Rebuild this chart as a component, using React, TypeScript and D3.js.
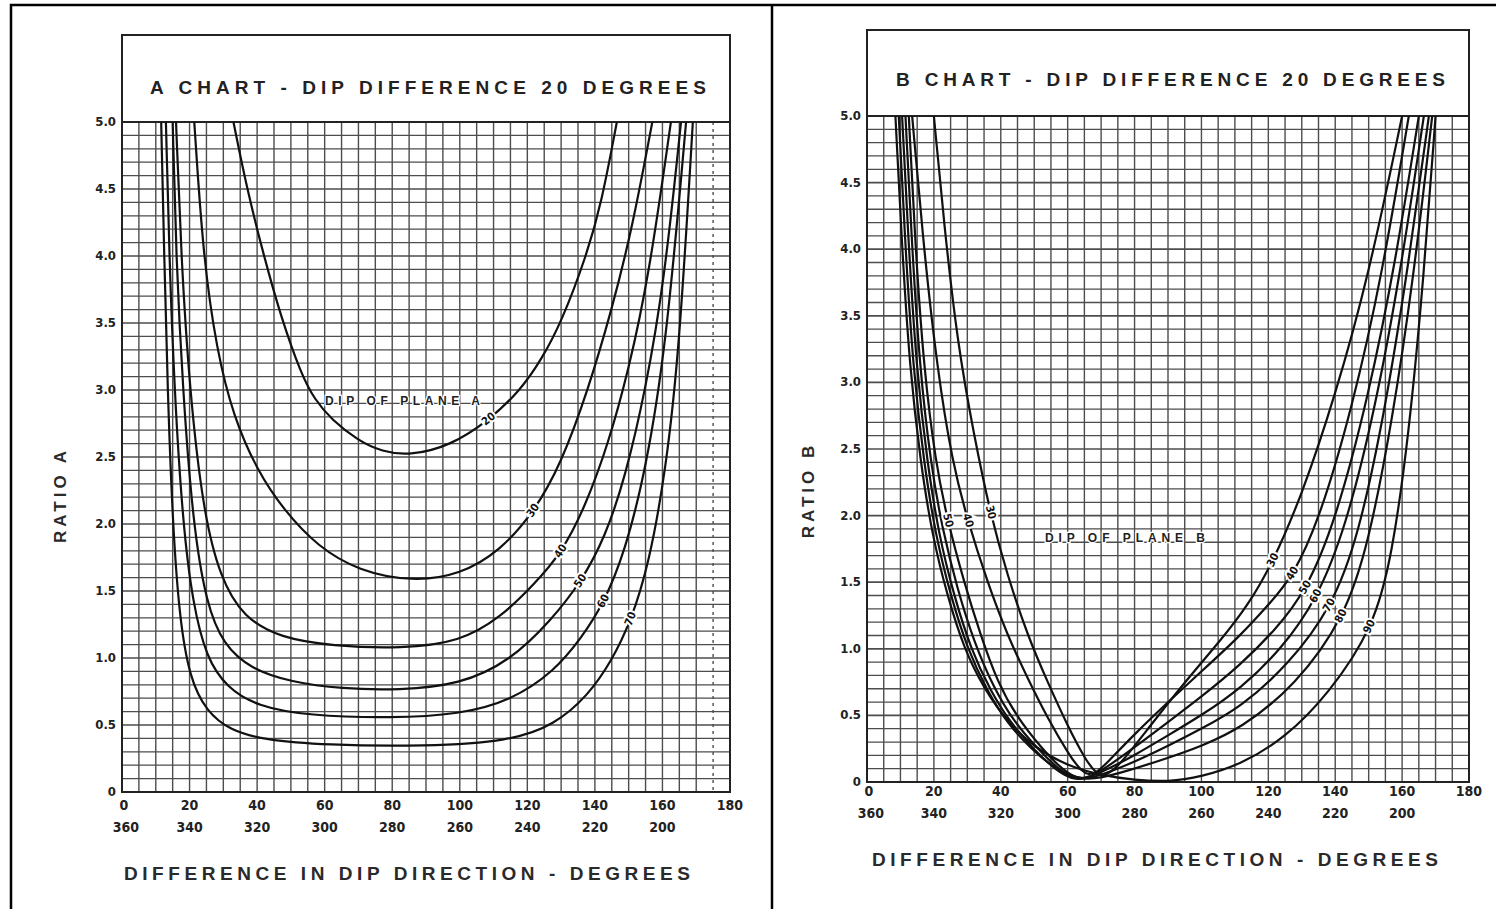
import React from 'react';
import * as d3 from 'd3';

type P = [number, number];

// ---------- tick data ----------
const ratioTicks = [0, 0.5, 1, 1.5, 2, 2.5, 3, 3.5, 4, 4.5, 5];
const ratioTickLabels = ['0', '0.5', '1.0', '1.5', '2.0', '2.5', '3.0', '3.5', '4.0', '4.5', '5.0'];
const dirTicks = [0, 20, 40, 60, 80, 100, 120, 140, 160, 180];
const dirUpperLabels = ['0', '20', '40', '60', '80', '100', '120', '140', '160', '180'];
const dirLowerLabels = ['360', '340', '320', '300', '280', '260', '240', '220', '200', ''];

// ---------- A chart curves (difference in dip direction, ratio A) ----------
const curveA20: P[] = [[33, 5.0], [37, 4.5], [42, 4.0], [47, 3.55], [53, 3.12], [57, 2.93], [62, 2.78], [70, 2.62], [77, 2.54], [85, 2.51], [97, 2.58], [109, 2.78], [118, 3.0], [124, 3.22], [130, 3.5], [137.5, 4.0], [142, 4.4], [146.5, 5.0]];
const curveA30: P[] = [[21.4, 5.0], [24, 4.0], [28, 3.3], [33, 2.8], [40, 2.4], [48, 2.1], [58, 1.83], [70, 1.65], [86, 1.57], [100, 1.62], [112, 1.8], [122, 2.09], [130, 2.45], [138, 3.0], [145, 3.6], [151, 4.2], [157, 5.0]];
const curveA40: P[] = [[16, 5.0], [17.5, 4.0], [20, 3.0], [24, 2.1], [29, 1.6], [36, 1.3], [47, 1.15], [62, 1.09], [83, 1.07], [100, 1.12], [112, 1.3], [122, 1.55], [130, 1.78], [137, 2.12], [144, 2.6], [150, 3.15], [156, 3.85], [162.5, 5.0]];
const curveA50: P[] = [[15, 5.0], [16, 4.0], [18, 3.0], [21, 2.0], [25, 1.4], [30, 1.1], [38, 0.92], [50, 0.82], [65, 0.77], [82, 0.76], [100, 0.8], [115, 0.98], [127, 1.28], [136, 1.57], [143, 1.9], [149, 2.35], [155, 3.0], [160.5, 3.8], [165.5, 5.0]];
const curveA60: P[] = [[13, 5.0], [14, 4.0], [15.5, 3.0], [18, 2.0], [21, 1.4], [25, 1.0], [31, 0.78], [40, 0.64], [55, 0.57], [80, 0.55], [100, 0.58], [115, 0.68], [128, 0.9], [136, 1.15], [142.5, 1.4], [149, 1.8], [155, 2.4], [161, 3.3], [167, 5.0]];
const curveA70: P[] = [[11.6, 5.0], [12.5, 4.0], [13.5, 3.0], [15, 2.0], [17, 1.3], [20, 0.85], [25, 0.6], [32, 0.46], [42, 0.39], [60, 0.35], [90, 0.34], [115, 0.38], [128, 0.5], [138, 0.72], [145, 0.98], [150.6, 1.27], [156, 1.7], [161, 2.4], [165, 3.3], [169, 5.0]];

const labelsA = ['20', '30', '40', '50', '60', '70'];
const labelAtA = [109, 122, 130, 136, 142.5, 150.6];

// ---------- B chart curves (difference in dip direction, ratio B) ----------
const curveB30: P[] = [[20, 5.0], [23, 4.2], [27, 3.3], [32, 2.6], [37, 2.0], [42, 1.55], [48, 1.1], [54, 0.75], [60, 0.42], [65, 0.18], [70, 0.0], [76, 0.14], [84, 0.4], [95, 0.75], [106, 1.07], [114, 1.33], [121, 1.63], [130, 2.15], [140, 2.9], [150, 3.8], [160, 5.0]];
const curveB40: P[] = [[13.5, 5.0], [17, 4.0], [21, 3.1], [25.5, 2.4], [30, 1.97], [36, 1.5], [42, 1.1], [48, 0.78], [54, 0.48], [60, 0.22], [66, 0.0], [72, 0.15], [80, 0.36], [90, 0.6], [100, 0.83], [111.7, 1.1], [120, 1.33], [127, 1.53], [135, 1.95], [145, 2.8], [154, 3.8], [162, 5.0]];
const curveB50: P[] = [[12.5, 5.0], [14.5, 4.0], [17, 3.1], [20.5, 2.4], [24, 1.97], [29, 1.5], [34, 1.1], [39, 0.75], [45, 0.48], [52, 0.26], [58, 0.1], [64, 0.0], [70, 0.08], [80, 0.26], [90, 0.45], [100, 0.64], [111.7, 0.88], [122, 1.14], [131, 1.42], [140, 1.95], [150, 2.9], [158, 3.9], [165, 5.0]];
const curveB60: P[] = [[11.5, 5.0], [13.5, 4.0], [15.8, 3.1], [19, 2.4], [22.5, 1.9], [27, 1.45], [32, 1.05], [38, 0.7], [44, 0.45], [51, 0.25], [57, 0.1], [63, 0.0], [70, 0.07], [80, 0.2], [90, 0.35], [100, 0.5], [111.7, 0.7], [124, 1.0], [134.5, 1.37], [143, 1.9], [152, 2.8], [160, 3.9], [166.5, 5.0]];
const curveB70: P[] = [[10.5, 5.0], [12.5, 4.0], [14.8, 3.1], [18, 2.4], [21.5, 1.85], [26, 1.4], [31, 1.0], [37, 0.68], [43, 0.44], [50, 0.24], [56, 0.1], [62, 0.0], [70, 0.05], [80, 0.15], [90, 0.27], [100, 0.4], [111.7, 0.56], [126, 0.88], [139, 1.31], [147, 1.85], [155, 2.8], [162, 3.9], [168, 5.0]];
const curveB80: P[] = [[9.5, 5.0], [11.5, 4.0], [13.8, 3.1], [17, 2.4], [20.5, 1.85], [25, 1.4], [30, 1.0], [36, 0.68], [42, 0.44], [49, 0.25], [56, 0.1], [65, 0.0], [75, 0.06], [90, 0.18], [100, 0.27], [111.7, 0.4], [128, 0.72], [143, 1.24], [150, 1.8], [157, 2.7], [163.5, 3.8], [169, 5.0]];
const curveB90: P[] = [[8.5, 5.0], [10.5, 4.0], [12.8, 3.1], [16, 2.4], [19.5, 1.85], [24, 1.4], [29, 1.0], [35, 0.7], [42, 0.45], [50, 0.26], [60, 0.12], [70, 0.05], [80, 0.015], [90, 0.0], [100, 0.04], [111.7, 0.13], [125, 0.33], [138, 0.66], [151.5, 1.16], [157, 1.7], [162, 2.6], [166.5, 3.8], [170, 5.0]];

const labelsB = ['30', '40', '50', '60', '70', '80', '90'];
const labelAtB = [121, 127, 131, 134.5, 139, 143, 151.5];
const labelAtBLeft = [37, 30, 24, null, null, null, null];

const curvesA = [curveA20, curveA30, curveA40, curveA50, curveA60, curveA70];
const curvesB = [curveB30, curveB40, curveB50, curveB60, curveB70, curveB80, curveB90];

const FONT_NARROW = "'Liberation Sans Narrow', 'DejaVu Sans Condensed', 'Arial Narrow', sans-serif";
const FONT = "'Liberation Sans', Arial, sans-serif";

type PanelProps = {
  id: string;
  xRange: [number, number];
  yRange: [number, number];
  boxTop: number;
  title: string;
  titleX: [number, number];
  titleY: number;
  yTitle: string;
  yTitleX: number;
  yTitleY: number;
  xTitleX: [number, number];
  xTitleY: number;
  upperY: number;
  lowerY: number;
  curves: P[][];
  labels: string[];
  labelAt: (number | null)[];
  labelAtLeft?: (number | null)[];
  planeText: string;
  planeX: [number, number];
  planeY: number;
  dashedRight: boolean;
};

function Panel(p: PanelProps) {
  const x = d3.scaleLinear().domain([0, 180]).range(p.xRange);
  const y = d3.scaleLinear().domain([0, 5]).range(p.yRange);
  const line = d3.line<P>().x(d => x(d[0])).y(d => y(d[1])).curve(d3.curveBasis);
  const vGrid = d3.range(0, 181, 5);
  const hGrid = d3.range(0, 51).map(i => i / 10);
  const left = x(0), right = x(180), top = y(5), bottom = y(0);

  const labelNode = (pts: P[], at: number, text: string, key: string) => {
    const i = pts.findIndex(d => d[0] === at);
    if (i < 0) return null;
    const a = pts[Math.max(0, i - 1)], b = pts[Math.min(pts.length - 1, i + 1)];
    const ang = Math.atan2(y(b[1]) - y(a[1]), x(b[0]) - x(a[0])) * 180 / Math.PI;
    // B-spline point at the knot: (a + 4p + b) / 6
    const px = (x(a[0]) + 4 * x(pts[i][0]) + x(b[0])) / 6;
    const py = (y(a[1]) + 4 * y(pts[i][1]) + y(b[1])) / 6;
    return (
      <text key={key} x={0} y={0} transform={`translate(${px},${py}) rotate(${ang})`}
        textAnchor="middle" dominantBaseline="central" fontFamily={FONT_NARROW} fontWeight="bold"
        fontSize={11} fill="#111" stroke="#fff" strokeWidth={4} paintOrder="stroke">{text}</text>
    );
  };

  return (
    <g>
      <defs>
        <clipPath id={`clip-${p.id}`}>
          <rect x={left} y={top} width={right - left} height={bottom - top} />
        </clipPath>
      </defs>
      {/* grid */}
      <g stroke="#4d4d4d" strokeWidth={1.4}>
        {vGrid.map(v => (
          <line key={`v${v}`} x1={x(v)} x2={x(v)} y1={top} y2={bottom}
            strokeDasharray={p.dashedRight && v > 170 ? '3,4' : undefined} />
        ))}
        {hGrid.map(h => (
          <line key={`h${h}`} x1={left} x2={right} y1={y(h)} y2={y(h)}
            strokeWidth={Math.round(h * 10) % 5 === 0 ? 1.7 : 1.3} />
        ))}
      </g>
      {/* frames */}
      <rect x={left} y={p.boxTop} width={right - left} height={top - p.boxTop} fill="#fff" stroke="#222" strokeWidth={2} />
      <rect x={left} y={top} width={right - left} height={bottom - top} fill="none" stroke="#222" strokeWidth={2} />
      {/* curves */}
      <g clipPath={`url(#clip-${p.id})`} fill="none" stroke="#111" strokeWidth={2.2}>
        {p.curves.map((c, i) => <path key={i} d={line(c) || ''} />)}
      </g>
      {/* curve labels */}
      {p.curves.map((c, i) => p.labelAt[i] != null ? labelNode(c, p.labelAt[i] as number, p.labels[i], `r${i}`) : null)}
      {p.labelAtLeft && p.curves.map((c, i) => p.labelAtLeft![i] != null ? labelNode(c, p.labelAtLeft![i] as number, p.labels[i], `l${i}`) : null)}
      <text x={p.planeX[0]} y={p.planeY} textLength={p.planeX[1] - p.planeX[0]} lengthAdjust="spacing"
        fontFamily={FONT} fontWeight="bold" fontSize={12} fill="#222" stroke="#fff" strokeWidth={2.5} paintOrder="stroke">{p.planeText}</text>
      {/* title */}
      <text x={p.titleX[0]} y={p.titleY} textLength={p.titleX[1] - p.titleX[0]} lengthAdjust="spacing"
        fontFamily={FONT} fontWeight="bold" fontSize={19} fill="#222">{p.title}</text>
      {/* y ticks */}
      {ratioTicks.map((t, i) => (
        <text key={`yt${i}`} x={left - 6} y={y(t) + 4} textAnchor="end" fontFamily={FONT_NARROW}
          fontWeight="bold" fontSize={13} fill="#222">{ratioTickLabels[i]}</text>
      ))}
      {/* x ticks */}
      {dirTicks.map((t, i) => (
        <g key={`xt${i}`}>
          <text x={x(t) + (t === 0 ? 2 : 0)} y={p.upperY} textAnchor="middle" fontFamily={FONT_NARROW}
            fontWeight="bold" fontSize={14} fill="#222">{dirUpperLabels[i]}</text>
          <text x={x(t) + (t === 0 ? 4 : 0)} y={p.lowerY} textAnchor="middle" fontFamily={FONT_NARROW}
            fontWeight="bold" fontSize={14} fill="#222">{dirLowerLabels[i]}</text>
        </g>
      ))}
      {/* axis titles */}
      <text x={p.xTitleX[0]} y={p.xTitleY} textLength={p.xTitleX[1] - p.xTitleX[0]} lengthAdjust="spacing"
        fontFamily={FONT} fontWeight="bold" fontSize={19} fill="#2a2a2a">DIFFERENCE IN DIP DIRECTION - DEGREES</text>
      <text transform={`translate(${p.yTitleX},${p.yTitleY}) rotate(-90)`} textAnchor="middle"
        fontFamily={FONT} fontWeight="bold" fontSize={17} letterSpacing={4} fill="#2a2a2a">{p.yTitle}</text>
    </g>
  );
}

export default function App() {
  return (
    <svg width={1496} height={909} style={{ position: 'absolute', left: 0, top: 0, background: '#fff' }}>
      <rect x={0} y={0} width={1496} height={909} fill="#fff" />
      <Panel id="a" xRange={[122, 730]} yRange={[792, 122]} boxTop={35}
        title="A CHART - DIP DIFFERENCE 20 DEGREES" titleX={[150, 706]} titleY={94}
        yTitle="RATIO A" yTitleX={66} yTitleY={495}
        xTitleX={[124, 690]} xTitleY={880} upperY={810} lowerY={832}
        curves={curvesA} labels={labelsA} labelAt={labelAtA}
        planeText="DIP OF PLANE A" planeX={[325, 480]} planeY={405} dashedRight={true} />
      <Panel id="b" xRange={[867, 1469]} yRange={[782, 116]} boxTop={30}
        title="B CHART - DIP DIFFERENCE 20 DEGREES" titleX={[896, 1445]} titleY={86}
        yTitle="RATIO B" yTitleX={814} yTitleY={490}
        xTitleX={[872, 1438]} xTitleY={866} upperY={796} lowerY={818}
        curves={curvesB} labels={labelsB} labelAt={labelAtB} labelAtLeft={labelAtBLeft}
        planeText="DIP OF PLANE B" planeX={[1045, 1205]} planeY={542} dashedRight={false} />
      {/* outer frame and divider */}
      <rect x={11} y={5} width={1490} height={920} fill="none" stroke="#000" strokeWidth={2.5} />
      <line x1={772} x2={772} y1={5} y2={909} stroke="#000" strokeWidth={2.5} />
    </svg>
  );
}
